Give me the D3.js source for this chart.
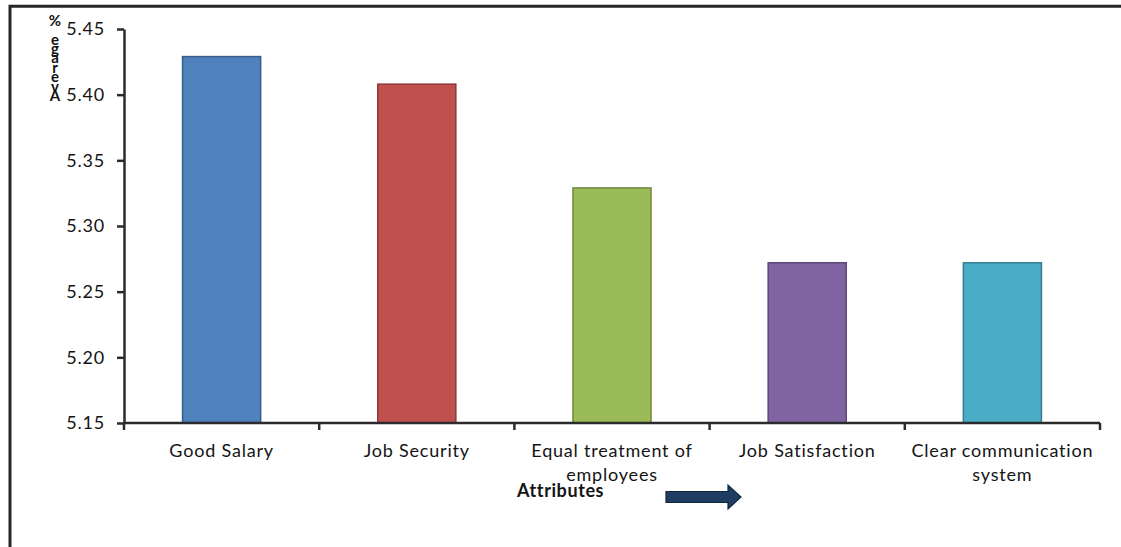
<!DOCTYPE html>
<html>
<head>
<meta charset="utf-8">
<script src="https://cdn.jsdelivr.net/npm/d3@7"></script>
<style>
  html, body { margin: 0; padding: 0; background: #fff; }
  svg { display: block; }
  text { font-family: Lato, "Open Sans", sans-serif; }
</style>
</head>
<body>
<svg id="chart" width="1121" height="547"></svg>
<script>
const categories = ["Good Salary", "Job Security", "Equal treatment of employees", "Job Satisfaction", "Clear communication system"];
const values = [5.429, 5.408, 5.329, 5.272, 5.272];
const barColors = ["#4f81bd", "#c0504d", "#9bbb59", "#8064a2", "#4bacc6"];
const barBorders = ["#385d8a", "#8c3836", "#71893f", "#5c4776", "#357d91"];
const yTicks = [5.15, 5.20, 5.25, 5.30, 5.35, 5.40, 5.45];
const yDomain = [5.15, 5.45];
const xTitle = "Attributes";
const yTitle = "Average %";

const svg = d3.select("#chart");
const W = 1121, H = 547;
svg.append("rect").attr("width", W).attr("height", H).attr("fill", "#fff");

// outer frame (top + left edges visible)
svg.append("path")
  .attr("d", `M10,${H + 5} L10,6.3 L${W + 5},6.3`)
  .attr("fill", "none").attr("stroke", "#262626").attr("stroke-width", 3);

const x0 = 124, x1 = 1100, yTop = 29, yBot = 423;
const x = d3.scaleBand().domain(categories).range([x0, x1]).paddingInner(0.6).paddingOuter(0.3);
const y = d3.scaleLinear().domain(yDomain).range([yBot, yTop]);

// bars
svg.append("g").selectAll("rect").data(categories).join("rect")
  .attr("x", d => x(d))
  .attr("y", (d, i) => y(values[i]))
  .attr("width", x.bandwidth())
  .attr("height", (d, i) => yBot - y(values[i]))
  .attr("fill", (d, i) => barColors[i])
  .attr("stroke", (d, i) => barBorders[i])
  .attr("stroke-width", 1.5);

// y axis
const yAxis = svg.append("g").attr("transform", `translate(${x0},0)`)
  .call(d3.axisLeft(y).tickValues(yTicks).tickFormat(d3.format(".2f")).tickSize(7).tickPadding(12).tickSizeOuter(0));
yAxis.select(".domain").attr("stroke", "#2b2b2b").attr("stroke-width", 2.5);
yAxis.selectAll(".tick line").attr("stroke", "#2b2b2b").attr("stroke-width", 2.5);
yAxis.selectAll(".tick text").attr("font-size", 18).attr("fill", "#141414")
  .attr("letter-spacing", 0.8).attr("font-family", "Lato, sans-serif");

// x axis: ticks at band boundaries
const step = x.step();
const boundaries = d3.range(categories.length + 1).map(i => x0 + i * step);
svg.append("line").attr("x1", x0).attr("x2", x1).attr("y1", yBot).attr("y2", yBot)
  .attr("stroke", "#2b2b2b").attr("stroke-width", 2.5);
svg.append("g").selectAll("line").data(boundaries).join("line")
  .attr("x1", d => d).attr("x2", d => d).attr("y1", yBot).attr("y2", yBot + 7)
  .attr("stroke", "#2b2b2b").attr("stroke-width", 2.5);

// category labels (wrapped)
const labelG = svg.append("g");
categories.forEach(cat => {
  const cx = x(cat) + x.bandwidth() / 2;
  const t = labelG.append("text").attr("x", cx).attr("y", 457)
    .attr("text-anchor", "middle").attr("font-size", 18).attr("letter-spacing", 0.8).attr("fill", "#141414");
  const words = cat.split(" ");
  let line = [];
  let tspan = t.append("tspan").attr("x", cx).attr("dy", 0);
  words.forEach(w => {
    line.push(w);
    tspan.text(line.join(" "));
    if (tspan.node().getComputedTextLength() > step - 6 && line.length > 1) {
      line.pop();
      tspan.text(line.join(" "));
      line = [w];
      tspan = t.append("tspan").attr("x", cx).attr("dy", 24).text(w);
    }
  });
});

// x title + arrow
svg.append("text").attr("x", 517).attr("y", 497).attr("font-size", 18).attr("font-weight", "bold")
  .attr("letter-spacing", 0.6).attr("fill", "#141414").text(xTitle);
const ax = 666, ay = 497;
svg.append("path")
  .attr("d", `M${ax},${ay - 5.5} L${ax + 62},${ay - 5.5} L${ax + 62},${ay - 12} L${ax + 75},${ay} L${ax + 62},${ay + 12} L${ax + 62},${ay + 5.5} L${ax},${ay + 5.5} Z`)
  .attr("fill", "#1f3d63").attr("stroke", "#10263f").attr("stroke-width", 1.2);

// y title: stacked characters, reading bottom-up
const chars = yTitle.split("");
const yt = svg.append("text").attr("text-anchor", "middle").attr("font-size", 15).attr("font-weight", "bold").attr("fill", "#111");
chars.forEach((c, i) => {
  yt.append("tspan").attr("x", 55).attr("y", 101 - i * 9.4).text(c);
});
</script>
</body>
</html>
